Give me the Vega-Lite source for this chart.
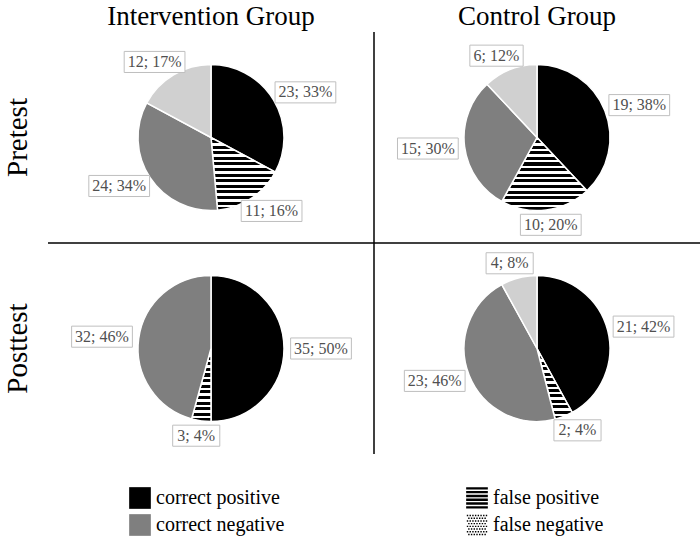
{
  "$schema": "https://vega.github.io/schema/vega-lite/v6.json",
  "width": 652,
  "height": 422,
  "autosize": {"type": "none"},
  "padding": {"left": 48, "top": 32, "right": 0, "bottom": 86},
  "config": {"view": {"stroke": null}, "font": "Liberation Serif"},
  "data": {
    "values": [
      {"group": "Intervention Group", "test": "Pretest", "cat": "correct positive", "count": 23, "pct": 33},
      {"group": "Intervention Group", "test": "Pretest", "cat": "false positive", "count": 11, "pct": 16},
      {"group": "Intervention Group", "test": "Pretest", "cat": "correct negative", "count": 24, "pct": 34},
      {"group": "Intervention Group", "test": "Pretest", "cat": "false negative", "count": 12, "pct": 17},
      {"group": "Control Group", "test": "Pretest", "cat": "correct positive", "count": 19, "pct": 38},
      {"group": "Control Group", "test": "Pretest", "cat": "false positive", "count": 10, "pct": 20},
      {"group": "Control Group", "test": "Pretest", "cat": "correct negative", "count": 15, "pct": 30},
      {"group": "Control Group", "test": "Pretest", "cat": "false negative", "count": 6, "pct": 12},
      {"group": "Intervention Group", "test": "Posttest", "cat": "correct positive", "count": 35, "pct": 50},
      {"group": "Intervention Group", "test": "Posttest", "cat": "false positive", "count": 3, "pct": 4},
      {"group": "Intervention Group", "test": "Posttest", "cat": "correct negative", "count": 32, "pct": 46},
      {"group": "Control Group", "test": "Posttest", "cat": "correct positive", "count": 21, "pct": 42},
      {"group": "Control Group", "test": "Posttest", "cat": "false positive", "count": 2, "pct": 4},
      {"group": "Control Group", "test": "Posttest", "cat": "correct negative", "count": 23, "pct": 46},
      {"group": "Control Group", "test": "Posttest", "cat": "false negative", "count": 4, "pct": 8}
    ]
  },
  "transform": [
    {"calculate": "indexof(['correct positive','false positive','correct negative','false negative'], datum.cat)", "as": "ord"},
    {"joinaggregate": [{"op": "sum", "field": "count", "as": "total"}], "groupby": ["group", "test"]},
    {"window": [{"op": "sum", "field": "count", "as": "cum"}], "groupby": ["group", "test"], "sort": [{"field": "ord"}], "frame": [null, 0]},
    {"calculate": "(datum.cum - datum.count) / datum.total", "as": "t0"},
    {"calculate": "datum.cum / datum.total", "as": "t1"},
    {"calculate": "sin(PI * (datum.t0 + datum.t1))", "as": "lx"},
    {"calculate": "-cos(PI * (datum.t0 + datum.t1))", "as": "ly"},
    {"calculate": "datum.count + '; ' + datum.pct + '%'", "as": "label"},
    {"calculate": "length(datum.label)", "as": "len"}
  ],
  "encoding": {
    "x": {
      "field": "group", "type": "nominal",
      "sort": ["Intervention Group", "Control Group"],
      "scale": {"paddingInner": 0, "paddingOuter": 0},
      "axis": {"orient": "top", "title": null, "domain": false, "ticks": false, "labelAngle": 0, "labelBaseline": "alphabetic", "labelFont": "Liberation Serif", "labelFontSize": 27, "labelColor": "#000000", "labelPadding": 8, "labelLimit": 400}
    },
    "y": {
      "field": "test", "type": "nominal",
      "sort": ["Pretest", "Posttest"],
      "scale": {"paddingInner": 0, "paddingOuter": 0},
      "axis": {"orient": "left", "title": null, "domain": false, "ticks": false, "labelAngle": -90, "labelAlign": "center", "labelBaseline": "alphabetic", "labelFont": "Liberation Serif", "labelFontSize": 29, "labelColor": "#000000", "labelPadding": 22, "labelLimit": 400}
    }
  },
  "layer": [
    {
      "mark": {"type": "arc", "outerRadius": 73, "stroke": "#ffffff", "strokeWidth": 1.5},
      "encoding": {
        "theta": {"field": "t0", "type": "quantitative", "stack": null, "scale": {"domain": [0, 1]}},
        "theta2": {"field": "t1"},
        "fill": {
          "condition": [
            {"test": "datum.cat === 'false positive'", "value": {"gradient": "linear", "x1": 0, "y1": 0, "x2": 0, "y2": 1, "stops": [
                {"offset": 0, "color": "#ffffff"}, {"offset": 0.0346, "color": "#ffffff"}, {"offset": 0.0346, "color": "#000000"}, {"offset": 0.0769, "color": "#000000"},
                {"offset": 0.0769, "color": "#ffffff"}, {"offset": 0.1115, "color": "#ffffff"}, {"offset": 0.1115, "color": "#000000"}, {"offset": 0.1538, "color": "#000000"},
                {"offset": 0.1538, "color": "#ffffff"}, {"offset": 0.1885, "color": "#ffffff"}, {"offset": 0.1885, "color": "#000000"}, {"offset": 0.2308, "color": "#000000"},
                {"offset": 0.2308, "color": "#ffffff"}, {"offset": 0.2654, "color": "#ffffff"}, {"offset": 0.2654, "color": "#000000"}, {"offset": 0.3077, "color": "#000000"},
                {"offset": 0.3077, "color": "#ffffff"}, {"offset": 0.3423, "color": "#ffffff"}, {"offset": 0.3423, "color": "#000000"}, {"offset": 0.3846, "color": "#000000"},
                {"offset": 0.3846, "color": "#ffffff"}, {"offset": 0.4192, "color": "#ffffff"}, {"offset": 0.4192, "color": "#000000"}, {"offset": 0.4615, "color": "#000000"},
                {"offset": 0.4615, "color": "#ffffff"}, {"offset": 0.4962, "color": "#ffffff"}, {"offset": 0.4962, "color": "#000000"}, {"offset": 0.5385, "color": "#000000"},
                {"offset": 0.5385, "color": "#ffffff"}, {"offset": 0.5731, "color": "#ffffff"}, {"offset": 0.5731, "color": "#000000"}, {"offset": 0.6154, "color": "#000000"},
                {"offset": 0.6154, "color": "#ffffff"}, {"offset": 0.65, "color": "#ffffff"}, {"offset": 0.65, "color": "#000000"}, {"offset": 0.6923, "color": "#000000"},
                {"offset": 0.6923, "color": "#ffffff"}, {"offset": 0.7269, "color": "#ffffff"}, {"offset": 0.7269, "color": "#000000"}, {"offset": 0.7692, "color": "#000000"},
                {"offset": 0.7692, "color": "#ffffff"}, {"offset": 0.8038, "color": "#ffffff"}, {"offset": 0.8038, "color": "#000000"}, {"offset": 0.8462, "color": "#000000"},
                {"offset": 0.8462, "color": "#ffffff"}, {"offset": 0.8808, "color": "#ffffff"}, {"offset": 0.8808, "color": "#000000"}, {"offset": 0.9231, "color": "#000000"},
                {"offset": 0.9231, "color": "#ffffff"}, {"offset": 0.9577, "color": "#ffffff"}, {"offset": 0.9577, "color": "#000000"}, {"offset": 1, "color": "#000000"}
              ]}},
            {"test": "datum.cat === 'false negative'", "value": "#d0d0d0"}
          ],
          "field": "cat", "type": "nominal",
          "scale": {
            "domain": ["correct positive", "correct negative", "false positive", "false negative"],
            "range": ["#000000", "#7f7f7f", "#000000", "#d0d0d0"]
          },
          "legend": {
            "values": ["correct positive", "correct negative"],
            "orient": "none", "legendX": 81, "legendY": 455, "title": null,
            "direction": "vertical", "rowPadding": 5, "padding": 0,
            "symbolType": "square", "symbolSize": 470, "symbolStrokeWidth": 0, "symbolOpacity": 1,
            "labelFont": "Liberation Serif", "labelFontSize": 20, "labelColor": "#000000", "labelOffset": 5, "labelLimit": 300
          }
        }
      }
    },
    {
      "mark": {"type": "point", "filled": true, "fill": "#000000", "size": 0, "opacity": 1, "strokeWidth": 0},
      "encoding": {
        "shape": {
          "field": "cat", "type": "nominal",
          "scale": {
            "domain": ["false positive", "false negative", "correct positive", "correct negative"],
            "range": [
              "M-1,-1H1V-0.78H-1Z M-1,-0.65H1V-0.43H-1Z M-1,-0.3H1V-0.08H-1Z M-1,0.05H1V0.27H-1Z M-1,0.4H1V0.62H-1Z M-1,0.75H1V0.97H-1Z",
              "M-0.94,-0.94h0.13v0.13h-0.13z M-0.69,-0.94h0.13v0.13h-0.13z M-0.44,-0.94h0.13v0.13h-0.13z M-0.19,-0.94h0.13v0.13h-0.13z M0.06,-0.94h0.13v0.13h-0.13z M0.31,-0.94h0.13v0.13h-0.13z M0.56,-0.94h0.13v0.13h-0.13z M0.81,-0.94h0.13v0.13h-0.13z M-0.815,-0.69h0.13v0.13h-0.13z M-0.565,-0.69h0.13v0.13h-0.13z M-0.315,-0.69h0.13v0.13h-0.13z M-0.065,-0.69h0.13v0.13h-0.13z M0.185,-0.69h0.13v0.13h-0.13z M0.435,-0.69h0.13v0.13h-0.13z M0.685,-0.69h0.13v0.13h-0.13z M-0.94,-0.44h0.13v0.13h-0.13z M-0.69,-0.44h0.13v0.13h-0.13z M-0.44,-0.44h0.13v0.13h-0.13z M-0.19,-0.44h0.13v0.13h-0.13z M0.06,-0.44h0.13v0.13h-0.13z M0.31,-0.44h0.13v0.13h-0.13z M0.56,-0.44h0.13v0.13h-0.13z M0.81,-0.44h0.13v0.13h-0.13z M-0.815,-0.19h0.13v0.13h-0.13z M-0.565,-0.19h0.13v0.13h-0.13z M-0.315,-0.19h0.13v0.13h-0.13z M-0.065,-0.19h0.13v0.13h-0.13z M0.185,-0.19h0.13v0.13h-0.13z M0.435,-0.19h0.13v0.13h-0.13z M0.685,-0.19h0.13v0.13h-0.13z M-0.94,0.06h0.13v0.13h-0.13z M-0.69,0.06h0.13v0.13h-0.13z M-0.44,0.06h0.13v0.13h-0.13z M-0.19,0.06h0.13v0.13h-0.13z M0.06,0.06h0.13v0.13h-0.13z M0.31,0.06h0.13v0.13h-0.13z M0.56,0.06h0.13v0.13h-0.13z M0.81,0.06h0.13v0.13h-0.13z M-0.815,0.31h0.13v0.13h-0.13z M-0.565,0.31h0.13v0.13h-0.13z M-0.315,0.31h0.13v0.13h-0.13z M-0.065,0.31h0.13v0.13h-0.13z M0.185,0.31h0.13v0.13h-0.13z M0.435,0.31h0.13v0.13h-0.13z M0.685,0.31h0.13v0.13h-0.13z M-0.94,0.56h0.13v0.13h-0.13z M-0.69,0.56h0.13v0.13h-0.13z M-0.44,0.56h0.13v0.13h-0.13z M-0.19,0.56h0.13v0.13h-0.13z M0.06,0.56h0.13v0.13h-0.13z M0.31,0.56h0.13v0.13h-0.13z M0.56,0.56h0.13v0.13h-0.13z M0.81,0.56h0.13v0.13h-0.13z M-0.815,0.81h0.13v0.13h-0.13z M-0.565,0.81h0.13v0.13h-0.13z M-0.315,0.81h0.13v0.13h-0.13z M-0.065,0.81h0.13v0.13h-0.13z M0.185,0.81h0.13v0.13h-0.13z M0.435,0.81h0.13v0.13h-0.13z M0.685,0.81h0.13v0.13h-0.13z",
              "square",
              "square"
            ]
          },
          "legend": {
            "values": ["false positive", "false negative"],
            "orient": "none", "legendX": 418, "legendY": 455, "title": null,
            "direction": "vertical", "rowPadding": 5, "padding": 0,
            "symbolSize": 470, "symbolStrokeWidth": 0, "symbolOpacity": 1, "symbolFillColor": "#000000",
            "labelFont": "Liberation Serif", "labelFontSize": 20, "labelColor": "#000000", "labelOffset": 5, "labelLimit": 300
          }
        }
      }
    },
    {
      "data": {"values": [{}]},
      "mark": {"type": "rule", "color": "#000000", "strokeWidth": 1.5},
      "encoding": {
        "x": {"datum": "Control Group", "type": "nominal", "bandPosition": 0},
        "y": null
      }
    },
    {
      "data": {"values": [{}]},
      "mark": {"type": "rule", "color": "#000000", "strokeWidth": 1.5},
      "encoding": {
        "y": {"datum": "Posttest", "type": "nominal", "bandPosition": 0},
        "x": null
      }
    },
    {
      "mark": {"type": "point", "filled": true, "fill": "#ffffff", "stroke": "#bfbfbf", "strokeWidth": 1, "opacity": 1, "size": 3844},
      "encoding": {
        "xOffset": {"field": "lx", "type": "quantitative", "scale": {"domain": [-1, 1], "range": [53, 273]}},
        "yOffset": {"field": "ly", "type": "quantitative", "scale": {"domain": [-1, 1], "range": [17.5, 193.5]}},
        "shape": {
          "field": "len", "type": "nominal", "legend": null,
          "scale": {"domain": [5, 6, 7], "range": [
            "M-0.76,-0.34L0.76,-0.34L0.76,0.34L-0.76,0.34Z",
            "M-0.86,-0.34L0.86,-0.34L0.86,0.34L-0.86,0.34Z",
            "M-0.98,-0.34L0.98,-0.34L0.98,0.34L-0.98,0.34Z"
          ]}
        }
      }
    },
    {
      "mark": {"type": "text", "font": "Liberation Serif", "fontSize": 16, "color": "#505050", "align": "center", "baseline": "middle"},
      "encoding": {
        "xOffset": {"field": "lx", "type": "quantitative"},
        "yOffset": {"field": "ly", "type": "quantitative"},
        "text": {"field": "label"}
      }
    }
  ],
  "resolve": {"scale": {"shape": "independent"}}
}
